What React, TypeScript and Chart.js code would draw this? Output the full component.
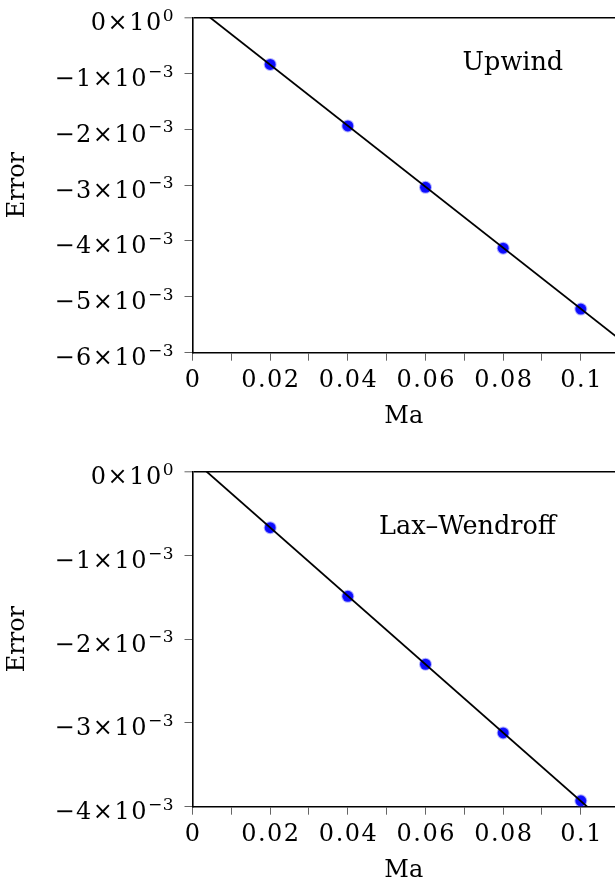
import React, { useEffect, useRef } from "react";
import { Chart, registerables } from "chart.js";

Chart.register(...registerables);

// ---- data ----
const maValues = [0.02, 0.04, 0.06, 0.08, 0.1];
const upwindErrors = [-0.00084, -0.00194, -0.00304, -0.00413, -0.00522];
const laxErrors = [-0.00067, -0.00149, -0.0023, -0.00312, -0.00393];

const fitX = [0, 0.11];
const upwindFitY = [0.000246, -0.00576];
const laxFitY = [0.000147, -0.004341];

const xTickValues = [0, 0.01, 0.02, 0.03, 0.04, 0.05, 0.06, 0.07, 0.08, 0.09, 0.1];
const xTickLabels = ["0", "", "0.02", "", "0.04", "", "0.06", "", "0.08", "", "0.1"];

const upwindYTicks = [0, -0.001, -0.002, -0.003, -0.004, -0.005, -0.006];
const upwindYMantissa = ["0", "−1", "−2", "−3", "−4", "−5", "−6"];
const upwindYExponent = ["0", "−3", "−3", "−3", "−3", "−3", "−3"];
const laxYTicks = [0, -0.001, -0.002, -0.003, -0.004];
const laxYMantissa = ["0", "−1", "−2", "−3", "−4"];
const laxYExponent = ["0", "−3", "−3", "−3", "−3"];

const X_MIN = 0;
const X_MAX = 0.1088;

const FONT = "'DejaVu Serif', serif";
const W = 615;
const H = 454;

function labelsPlugin(
  yTicks: number[],
  mant: string[],
  expo: string[],
  label: string,
  lx: number,
  ly: number
) {
  return {
    id: "panelLabels",
    afterDraw(chart: any) {
      const { ctx, scales, chartArea } = chart;
      const xs = scales.x;
      const ys = scales.y;
      ctx.save();
      ctx.fillStyle = "#000";
      ctx.textAlign = "left";
      ctx.textBaseline = "alphabetic";

      // x tick labels
      ctx.font = `24px ${FONT}`;
      (ctx as any).letterSpacing = "1.5px";
      xTickValues.forEach((v, i) => {
        const t = xTickLabels[i];
        if (!t) return;
        const w = ctx.measureText(t).width - 1.5;
        ctx.fillText(t, xs.getPixelForValue(v) - w / 2, chartArea.bottom + 34);
      });

      // y tick labels with superscript exponents
      const rightX = chartArea.left - 18.5;
      yTicks.forEach((v, i) => {
        const py = ys.getPixelForValue(v);
        const base = `${mant[i]}×10`;
        const sup = expo[i];
        ctx.font = `17px ${FONT}`;
        (ctx as any).letterSpacing = "0.5px";
        const supW = ctx.measureText(sup).width;
        ctx.font = `24px ${FONT}`;
        (ctx as any).letterSpacing = "1.5px";
        const baseW = ctx.measureText(base).width;
        const x0 = rightX - supW - baseW;
        ctx.fillText(base, x0, py + 12.5);
        ctx.font = `17px ${FONT}`;
        (ctx as any).letterSpacing = "0.5px";
        ctx.fillText(sup, x0 + baseW, py + 3.2);
      });

      // panel name
      (ctx as any).letterSpacing = "0px";
      ctx.font = `25.5px ${FONT}`;
      ctx.textAlign = "center";
      ctx.fillText(label, xs.getPixelForValue(lx), ys.getPixelForValue(ly));
      ctx.restore();
    },
  };
}

function makeConfig(
  errors: number[],
  fitY: number[],
  yTicks: number[],
  mant: string[],
  expo: string[],
  label: string,
  lx: number,
  ly: number
): any {
  const font = { family: FONT, size: 24, lineHeight: 1 };
  const zeroPad = (s: any) => {
    s.paddingLeft = 0;
    s.paddingRight = 0;
    s.paddingTop = 0;
    s.paddingBottom = 0;
  };
  return {
    type: "scatter",
    data: {
      datasets: [
        {
          data: fitX.map((x, i) => ({ x, y: fitY[i] })),
          showLine: true,
          borderColor: "#000",
          borderWidth: 1.8,
          pointRadius: 0,
        },
        {
          data: maValues.map((x, i) => ({ x, y: errors[i] })),
          showLine: false,
          pointRadius: 5.5,
          pointBackgroundColor: "rgb(12,12,255)",
          pointBorderColor: "rgba(40,40,255,0.35)",
          pointBorderWidth: 2,
        },
      ],
    },
    options: {
      responsive: false,
      devicePixelRatio: 1,
      animation: false,
      events: [],
      layout: { autoPadding: false, padding: { top: 17.5, left: 0, right: 0, bottom: 0 } },
      plugins: { legend: { display: false }, tooltip: { enabled: false } },
      scales: {
        x: {
          type: "linear",
          min: X_MIN,
          max: X_MAX,
          afterBuildTicks: (s: any) => {
            s.ticks = xTickValues.map((v) => ({ value: v }));
          },
          afterFit: (s: any) => {
            s.height = H - 352.7;
            zeroPad(s);
          },
          ticks: {
            callback: () => "",
            font,
            color: "#000",
            padding: 6,
            maxRotation: 0,
            autoSkip: false,
          },
          grid: {
            drawOnChartArea: false,
            drawTicks: true,
            tickLength: 8,
            tickColor: "#666",
            tickWidth: 1,
          },
          border: { display: true, color: "#000", width: 1.6 },
          title: { display: true, text: "Ma", font, color: "#000", padding: { top: 0, bottom: 25 } },
        },
        y: {
          type: "linear",
          min: yTicks[yTicks.length - 1],
          max: 0,
          afterBuildTicks: (s: any) => {
            s.ticks = yTicks.map((v) => ({ value: v }));
          },
          afterFit: (s: any) => {
            s.width = 192.5;
            zeroPad(s);
          },
          ticks: {
            callback: () => "",
            font,
            color: "#000",
            padding: 10,
            autoSkip: false,
          },
          grid: {
            drawOnChartArea: true,
            drawTicks: true,
            tickLength: 8,
            tickColor: "#666",
            tickWidth: 1,
            color: (c: any) => (c.tick && c.tick.value === 0 ? "#000" : "rgba(0,0,0,0)"),
            lineWidth: (c: any) => (c.tick && c.tick.value === 0 ? 1.6 : 1),
          },
          border: { display: true, color: "#000", width: 1.6 },
          title: { display: true, text: "Error", font, color: "#000", padding: { top: 6, bottom: 0 } },
        },
      },
    },
    plugins: [labelsPlugin(yTicks, mant, expo, label, lx, ly)],
  };
}

function Panel({ top, cfg }: { top: number; cfg: () => any }) {
  const ref = useRef<HTMLCanvasElement | null>(null);
  useEffect(() => {
    if (!ref.current) return;
    const chart = new Chart(ref.current, cfg());
    return () => chart.destroy();
  }, []);
  return (
    <canvas
      ref={ref}
      width={W}
      height={H}
      style={{ position: "absolute", left: 0, top, width: W, height: H }}
    />
  );
}

export default function App() {
  return (
    <div
      style={{
        position: "fixed",
        left: 0,
        top: 0,
        width: 615,
        height: 883,
        overflow: "hidden",
        background: "#fff",
      }}
    >
      <Panel
        top={0}
        cfg={() =>
          makeConfig(upwindErrors, upwindFitY, upwindYTicks, upwindYMantissa, upwindYExponent, "Upwind", 0.0825, -0.00094)
        }
      />
      <Panel
        top={453.5}
        cfg={() =>
          makeConfig(laxErrors, laxFitY, laxYTicks, laxYMantissa, laxYExponent, "Lax–Wendroff", 0.0708, -0.00074)
        }
      />
    </div>
  );
}
